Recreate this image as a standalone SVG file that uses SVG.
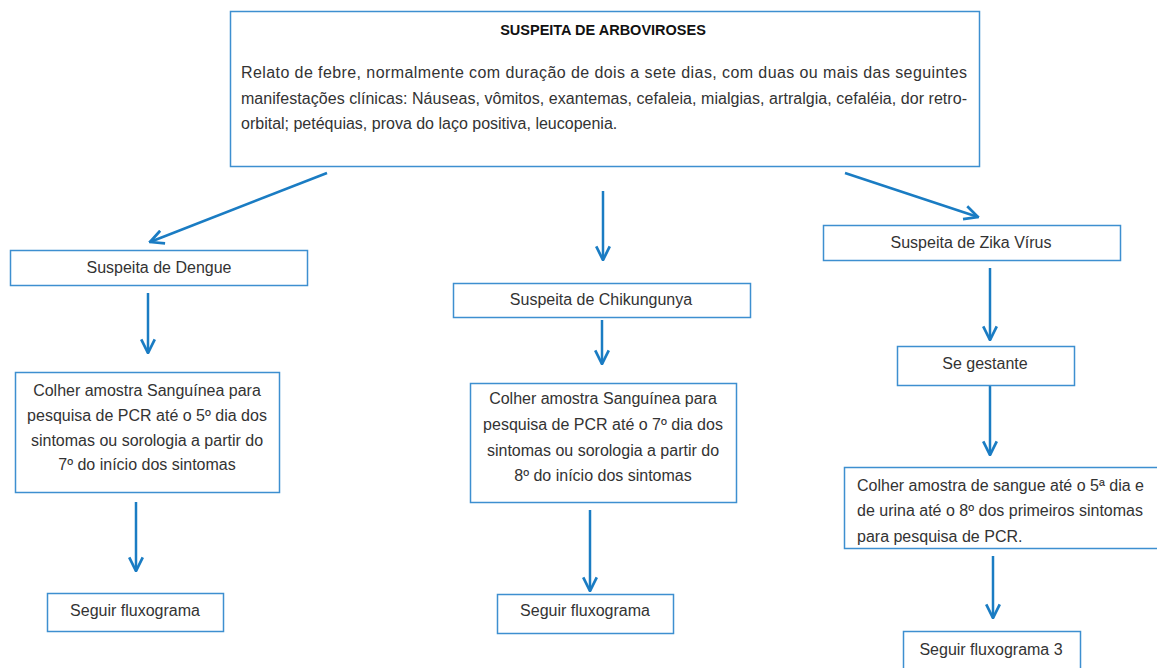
<svg xmlns="http://www.w3.org/2000/svg" width="1157" height="668" viewBox="0 0 1157 668">
<style>
.box{fill:#fff;stroke:#3d8fd0;stroke-width:1.5}
.t{font-family:"Liberation Sans",Arial,sans-serif;font-size:16px;fill:#333}
.c{text-anchor:middle}
.b{font-weight:bold;font-size:14.5px;fill:#111}
.arr{stroke:#1a7cc3;stroke-width:2.5;fill:none;marker-end:url(#ah)}
</style>
<defs>
<marker id="ah" viewBox="0 0 12 12" refX="11" refY="6" markerWidth="6.5" markerHeight="6.5" orient="auto" markerUnits="strokeWidth">
<path d="M1,1 L11,6 L1,11" fill="none" stroke="#1a7cc3" stroke-width="2"/>
</marker>
<clipPath id="zc"><rect x="844" y="467" width="313" height="81"/></clipPath>
</defs>
<rect width="1157" height="668" fill="#fff"/>
<g id="connectors">
<line class="arr" x1="327" y1="173" x2="150" y2="242"/>
<line class="arr" x1="603" y1="191" x2="603" y2="260"/>
<line class="arr" x1="845" y1="173" x2="978" y2="217"/>
<line class="arr" x1="148" y1="293" x2="148" y2="353"/>
<line class="arr" x1="136" y1="502" x2="136" y2="571"/>
<line class="arr" x1="602" y1="320" x2="602" y2="364"/>
<line class="arr" x1="590" y1="510" x2="590" y2="591"/>
<line class="arr" x1="990" y1="268" x2="990" y2="340"/>
<line class="arr" x1="990" y1="385" x2="990" y2="455"/>
<line class="arr" x1="993" y1="556" x2="993" y2="618"/>
</g>
<g id="top">
<rect class="box" x="230.5" y="11.5" width="749" height="155"/>
<text class="t c b" x="603" y="35">SUSPEITA DE ARBOVIROSES</text>
<text class="t" x="241" y="78" textLength="726" lengthAdjust="spacing">Relato de febre, normalmente com duração de dois a sete dias, com duas ou mais das seguintes</text>
<text class="t" x="241" y="104" textLength="726" lengthAdjust="spacing">manifestações clínicas: Náuseas, vômitos, exantemas, cefaleia, mialgias, artralgia, cefaléia, dor retro-</text>
<text class="t" x="241" y="129">orbital; petéquias, prova do laço positiva, leucopenia.</text>
</g>
<g id="dengue">
<rect class="box" x="10.5" y="250.5" width="297" height="35"/>
<text class="t c" x="159" y="273">Suspeita de Dengue</text>
</g>
<g id="dengue-colher">
<rect class="box" x="15.5" y="372.5" width="264" height="120"/>
<text class="t c" x="147" y="396">Colher amostra Sanguínea para</text>
<text class="t c" x="147" y="421">pesquisa de PCR até o 5º dia dos</text>
<text class="t c" x="147" y="446">sintomas ou sorologia a partir do</text>
<text class="t c" x="147" y="470">7º do início dos sintomas</text>
</g>
<g id="dengue-seguir">
<rect class="box" x="47.5" y="593.5" width="176" height="38"/>
<text class="t c" x="135" y="616">Seguir fluxograma</text>
</g>
<g id="chik">
<rect class="box" x="453.5" y="283.5" width="297" height="34"/>
<text class="t c" x="601" y="305">Suspeita de Chikungunya</text>
</g>
<g id="chik-colher">
<rect class="box" x="470.5" y="383.5" width="266" height="119"/>
<text class="t c" x="603" y="404">Colher amostra Sanguínea para</text>
<text class="t c" x="603" y="430">pesquisa de PCR até o 7º dia dos</text>
<text class="t c" x="603" y="456">sintomas ou sorologia a partir do</text>
<text class="t c" x="603" y="481">8º do início dos sintomas</text>
</g>
<g id="chik-seguir">
<rect class="box" x="497.5" y="594.5" width="176" height="39"/>
<text class="t c" x="585" y="616">Seguir fluxograma</text>
</g>
<g id="zika">
<rect class="box" x="823.5" y="225.5" width="297" height="35"/>
<text class="t c" x="971" y="248">Suspeita de Zika Vírus</text>
</g>
<g id="gestante">
<rect class="box" x="897.5" y="346.5" width="177" height="39"/>
<text class="t c" x="985" y="369">Se gestante</text>
</g>
<g id="zika-colher">
<rect class="box" x="844.5" y="467.5" width="320" height="81"/>
<g clip-path="url(#zc)">
<text class="t" x="857" y="491">Colher amostra de sangue até o 5ª dia e</text>
<text class="t" x="857" y="516">de urina até o 8º dos primeiros sintomas</text>
<text class="t" x="857" y="542">para pesquisa de PCR.</text>
</g>
</g>
<g id="zika-seguir">
<rect class="box" x="903.5" y="631.5" width="177" height="40"/>
<text class="t c" x="991" y="655">Seguir fluxograma 3</text>
</g>
</svg>
